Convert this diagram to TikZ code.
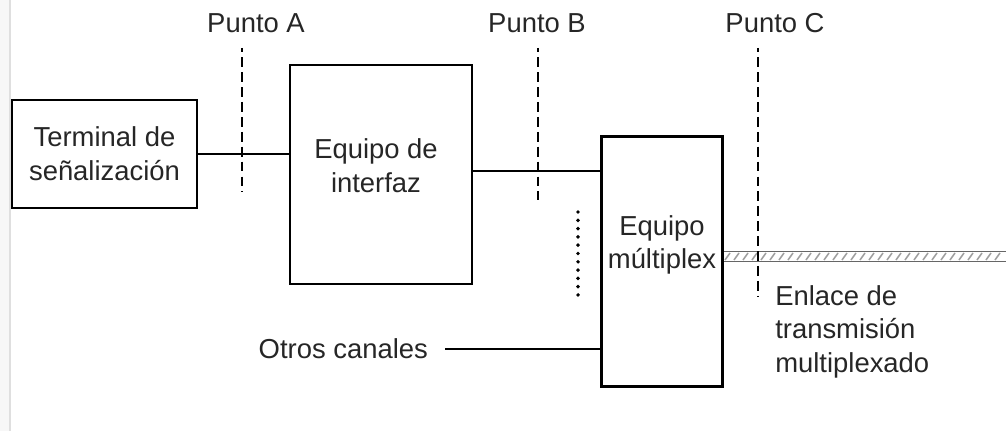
\documentclass[tikz,border=0pt]{standalone}
\usepackage{fontspec}
\setmainfont{Liberation Sans}
\usetikzlibrary{positioning}
\begin{document}
\begin{tikzpicture}[x=0.025cm, y=-0.025cm, font=\fontsize{19.5}{24}\selectfont]

% Styles
\tikzstyle{block} = [draw, rectangle, line width=1.9pt, inner sep=0pt]
\tikzstyle{txt}   = [align=center, inner sep=0pt, text=black!85]
\tikzstyle{wire}  = [line width=1.8pt]
\tikzstyle{cut}   = [line width=1.9pt, dash pattern=on 7pt off 3.6pt, dash phase=4pt]
\tikzstyle{dots}  = [line width=2.8pt, line cap=round, dash pattern=on 0pt off 5.9pt]

\useasboundingbox (0,0) rectangle (1006,431);
\fill[gray!6] (0,0) rectangle (10,431);
\draw[gray!25, line width=0.8pt] (10,0) -- (10,431);

% Nodes
\node [block, minimum width=4.625cm, minimum height=2.7cm] (term) at (104.5,154) {};
\node [txt] (term text) at (term.center) {Terminal de\\señalización};
\node [block, minimum width=4.55cm, minimum height=5.475cm] (intf) at (381,174.5) {};
\node [txt] (intf text) at (376,166) {Equipo de\\interfaz};
\node [block, minimum width=3.025cm, minimum height=6.25cm] (mux) at (662,261.5) {};
\node [txt] (mux text) at (662,245) {Equipo\\múltiplex};
\node [txt, anchor=east, inner xsep=12pt] (otros) at (445,349) {Otros canales};
\node [txt, align=left, anchor=north west] (link text) at (775,285) {Enlace de\\transmisión\\multiplexado};

% Points
\node [txt] (pa) at (256,23) {Punto A};
\node [txt] (pb) at (537,23) {Punto B};
\node [txt] (pc) at (775,23) {Punto C};
\coordinate (pa top) at (242,48);  \coordinate (pa bot) at (242,192);
\coordinate (pb top) at (538,48);  \coordinate (pb bot) at (538,200);
\coordinate (pc top) at (758,48);  \coordinate (pc bot) at (758,296);
\coordinate (dots top) at (578,212); \coordinate (dots bot) at (578,296);
\coordinate (link) at (1006,256.5);

% Connections
\draw [wire] (term.east) -- (term.east -| intf.west);
\draw [wire] ([yshift=0.0875cm]intf.east) -- ([yshift=0.0875cm]intf.east -| mux.west);
\draw [wire] (otros.east) -- (otros.east -| mux.west);
\draw [dots] (dots top) -- (dots bot);

% Multiplexed link
\draw [gray!80!black, line width=1.1pt, double distance=5.8pt] (mux.east |- link) -- (link);
\foreach \x in {725,734,...,1002}
  \draw [gray!75, line width=1.1pt] (\x,260) -- (\x+5,253);

\draw [cut] (pa top) -- (pa bot);
\draw [cut] (pb top) -- (pb bot);
\draw [cut] (pc top) -- (pc bot);

\end{tikzpicture}
\end{document}
